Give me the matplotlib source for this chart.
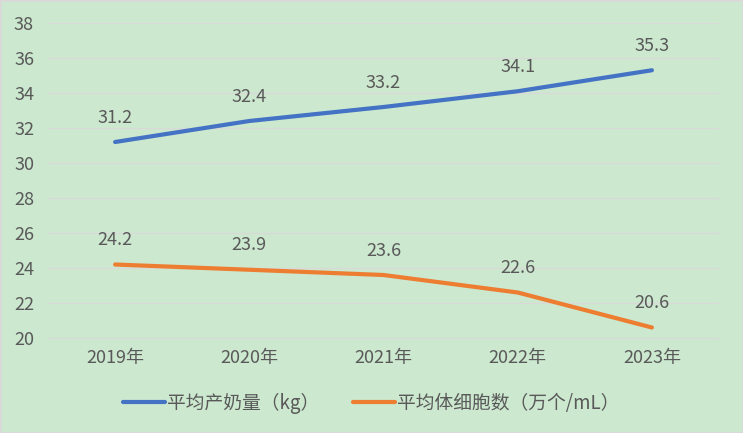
import matplotlib
matplotlib.use("Agg")
import matplotlib.pyplot as plt

plt.rcParams['font.family'] = ['Noto Sans CJK SC', 'DejaVu Sans']

years = ["2019年", "2020年", "2021年", "2022年", "2023年"]
milk_yield = [31.2, 32.4, 33.2, 34.1, 35.3]
somatic_cells = [24.2, 23.9, 23.6, 22.6, 20.6]
series_names = ["平均产奶量（kg）", "平均体细胞数（万个/mL）"]
yticks = [20, 22, 24, 26, 28, 30, 32, 34, 36, 38]

bg = "#cce8cf"
txt = "#595959"
fig = plt.figure(figsize=(7.43, 4.33), dpi=100, facecolor=bg)
fig.patches.append(plt.Rectangle((0, 0), 1, 1, transform=fig.transFigure,
                                 fill=False, edgecolor="#d9d9d9", linewidth=2))
ax = fig.add_axes([48/743, 1-338/433, (719-48)/743, (338-23)/433])
ax.set_facecolor(bg)

x = list(range(len(years)))
colors = ["#4472c4", "#ed7d31"]
for vals, c, name in zip([milk_yield, somatic_cells], colors, series_names):
    ax.plot(x, vals, color=c, linewidth=3, solid_capstyle='round', label=name, zorder=3)
    for xi, v in zip(x, vals):
        ax.annotate(f"{v:.1f}", (xi, v), xytext=(0, 11), textcoords='offset points',
                    ha='center', va='bottom', fontsize=13, color=txt)

ax.set_xlim(-0.5, len(years) - 0.5)
ax.set_ylim(20, 38)
ax.set_yticks(yticks)
ax.set_xticks(x)
ax.set_xticklabels(years)
ax.grid(axis='y', color="#d9d9d9", linewidth=1)
ax.set_axisbelow(True)
for s in ["top", "right", "left"]:
    ax.spines[s].set_visible(False)
ax.spines["bottom"].set_color("#d9d9d9")
ax.tick_params(axis='both', length=0, labelsize=13, colors=txt)
ax.tick_params(axis='x', pad=8)
ax.tick_params(axis='y', pad=10)

leg = fig.legend(loc='center', bbox_to_anchor=(0.5, 1-403/433), ncol=2, frameon=False,
                 fontsize=13.5, handlelength=2.2, handletextpad=0.15, columnspacing=1.8)
for t in leg.get_texts():
    t.set_color(txt)

fig.savefig("out.png", dpi=100, facecolor=bg)
